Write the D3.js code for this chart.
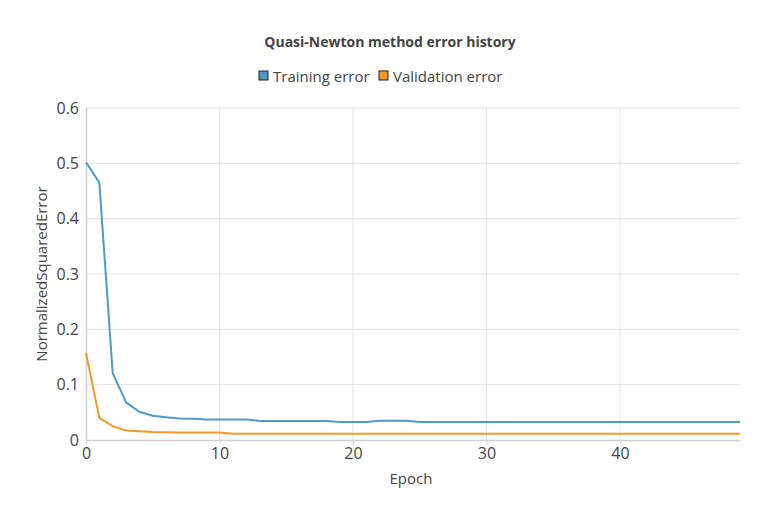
<!DOCTYPE html>
<html>
<head>
<meta charset="utf-8">
<script src="https://cdn.jsdelivr.net/npm/d3@7"></script>
<style>
  body { margin: 0; background: #fff; }
  text { font-family: "Open Sans", sans-serif; fill: #444; }
</style>
</head>
<body>
<svg id="chart" width="780" height="520"></svg>
<script>
// --- data ---
var epochs = d3.range(0, 50);
var trainingError = [
  0.502, 0.465, 0.121, 0.068, 0.051, 0.044, 0.041, 0.039, 0.0385, 0.037,
  0.037, 0.037, 0.037, 0.0345, 0.0345, 0.0345, 0.0345, 0.0345, 0.0345, 0.0325,
  0.0325, 0.0325, 0.035, 0.035, 0.035, 0.0325, 0.0325, 0.0325, 0.0325, 0.0325,
  0.0325, 0.0325, 0.0325, 0.0325, 0.0325, 0.0325, 0.0325, 0.0325, 0.0325, 0.0325,
  0.0325, 0.0325, 0.0325, 0.0325, 0.0325, 0.0325, 0.0325, 0.0325, 0.0325, 0.0325
];
var validationError = [
  0.157, 0.040, 0.025, 0.017, 0.0157, 0.0145, 0.014, 0.0135, 0.0135, 0.0135,
  0.0135, 0.0115, 0.0115, 0.0115, 0.0115, 0.0115, 0.0115, 0.0115, 0.0115, 0.0115,
  0.0115, 0.0115, 0.0115, 0.0115, 0.0115, 0.0115, 0.0115, 0.0115, 0.0115, 0.0115,
  0.0115, 0.0115, 0.0115, 0.0115, 0.0115, 0.0115, 0.0115, 0.0115, 0.0115, 0.0115,
  0.0115, 0.0115, 0.0115, 0.0115, 0.0115, 0.0115, 0.0115, 0.0115, 0.0115, 0.0115
];
var seriesNames = ['Training error', 'Validation error'];
var seriesColors = ['#4e9ac2', '#f0992a'];
var xTicks = [0, 10, 20, 30, 40];
var yTicks = [0, 0.1, 0.2, 0.3, 0.4, 0.5, 0.6];

var svg = d3.select('#chart');
var plotLeft = 86, plotRight = 740, plotTop = 108, plotBottom = 440;

var x = d3.scaleLinear().domain([0, 49]).range([plotLeft, plotRight]);
var y = d3.scaleLinear().domain([0, 0.6]).range([plotBottom, plotTop]);

// --- grid ---
svg.append('g').selectAll('line').data(yTicks.slice(1)).enter().append('line')
  .attr('x1', plotLeft).attr('x2', plotRight)
  .attr('y1', function(d) { return y(d); }).attr('y2', function(d) { return y(d); })
  .attr('stroke', '#e2e2e2').attr('stroke-width', 1);
svg.append('g').selectAll('line').data(xTicks.slice(1)).enter().append('line')
  .attr('y1', plotTop).attr('y2', plotBottom)
  .attr('x1', function(d) { return x(d); }).attr('x2', function(d) { return x(d); })
  .attr('stroke', '#e2e2e2').attr('stroke-width', 1);

// --- axes ---
var xAxis = svg.append('g').attr('transform', 'translate(0,' + plotBottom + ')')
  .call(d3.axisBottom(x).tickValues(xTicks).tickSize(5).tickPadding(3).tickSizeOuter(0));
var yAxis = svg.append('g').attr('transform', 'translate(' + plotLeft + ',0)')
  .call(d3.axisLeft(y).tickValues(yTicks).tickSize(0).tickPadding(7)
    .tickFormat(function(d) { return d === 0 ? '0' : d3.format('.1f')(d); }));
[xAxis, yAxis].forEach(function(a) {
  a.select('.domain').attr('stroke', '#d0d0d0').attr('stroke-width', 1.5);
  a.selectAll('.tick line').attr('stroke', '#d0d0d0');
  a.selectAll('.tick text').style('font-family', '"Open Sans", sans-serif')
    .style('font-size', '16px').attr('fill', '#444');
});
yAxis.select('.domain').attr('d', 'M0.5,' + plotTop + 'V' + plotBottom);

// --- lines ---
var line = d3.line()
  .x(function(d, i) { return x(epochs[i]); })
  .y(function(d) { return y(d); });
[trainingError, validationError].forEach(function(s, k) {
  svg.append('path').datum(s)
    .attr('fill', 'none')
    .attr('stroke', seriesColors[k])
    .attr('stroke-width', 2)
    .attr('d', line);
});

// --- titles ---
svg.append('text').attr('x', 390).attr('y', 47).attr('text-anchor', 'middle')
  .style('font-size', '14px').style('font-weight', 'bold').attr('fill', '#333')
  .text('Quasi-Newton method error history');

svg.append('text').attr('x', (plotLeft + plotRight) / 2 - 2).attr('y', 484).attr('text-anchor', 'middle')
  .style('font-size', '15px').text('Epoch');

svg.append('text').attr('transform', 'translate(47,' + ((plotTop + plotBottom) / 2) + ') rotate(-90)')
  .attr('text-anchor', 'middle').style('font-size', '15px').text('NormalizedSquaredError');

// --- legend ---
var legendX = [259, 379];
var legend = svg.append('g').selectAll('g').data(seriesNames).enter().append('g')
  .attr('transform', function(d, i) { return 'translate(' + legendX[i] + ',71)'; });
legend.append('rect').attr('width', 9).attr('height', 9)
  .attr('fill', function(d, i) { return seriesColors[i]; })
  .attr('stroke', '#222').attr('stroke-width', 1);
legend.append('text').attr('x', 14).attr('y', 10.5)
  .style('font-size', '15px').text(function(d) { return d; });
</script>
</body>
</html>
